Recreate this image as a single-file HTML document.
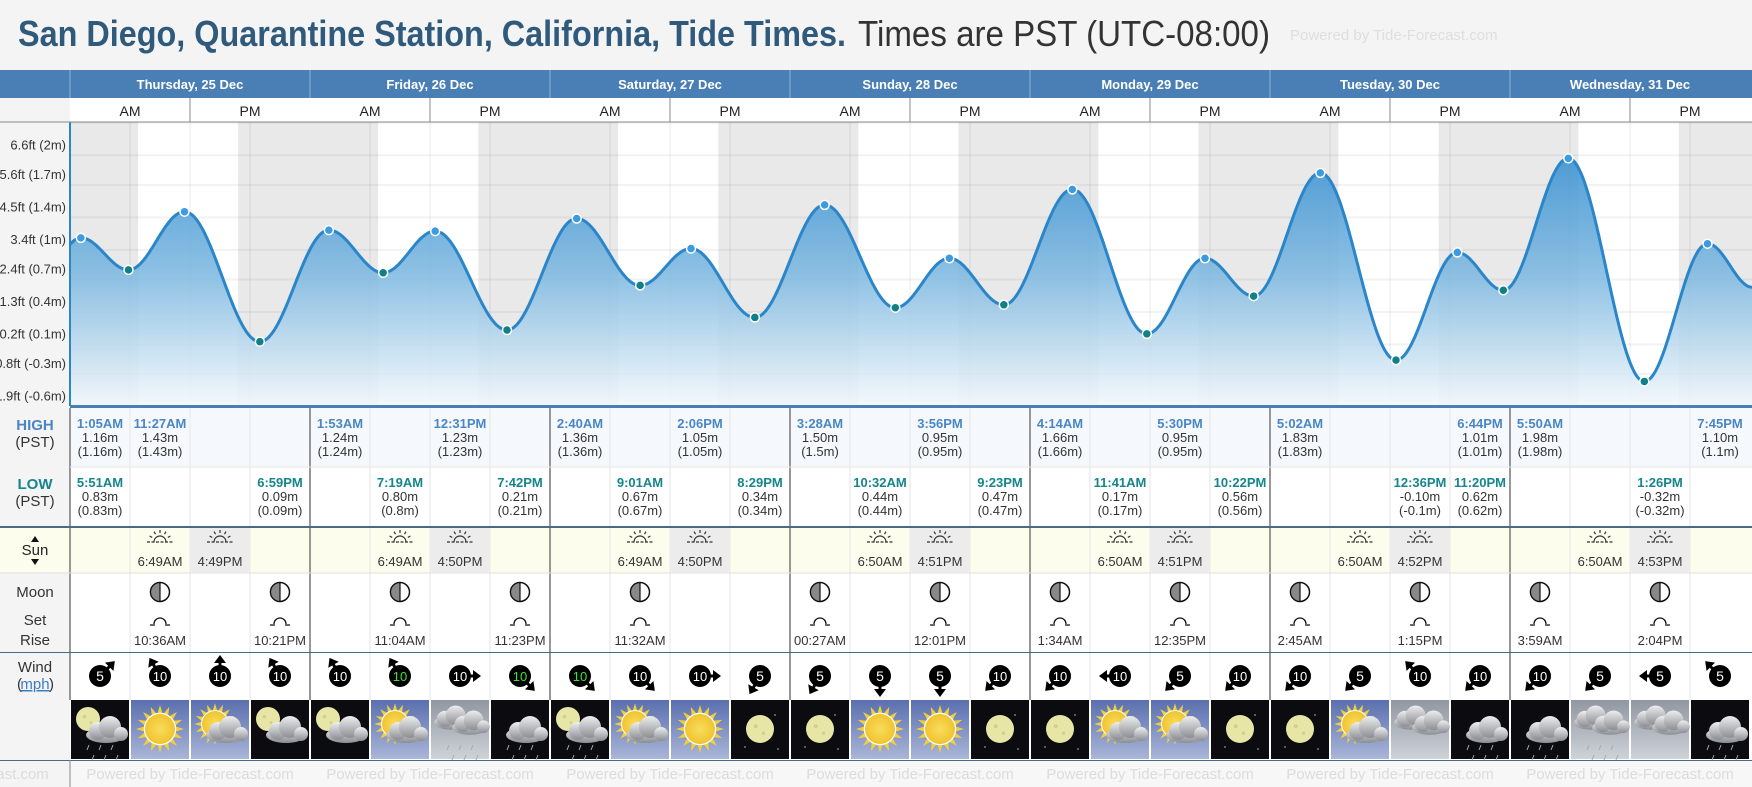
<!DOCTYPE html>
<html><head><meta charset="utf-8"><title>San Diego Tide Times</title>
<style>
html,body{margin:0;padding:0;background:#f4f4f4;}
svg{display:block;font-family:"Liberation Sans",Arial,sans-serif;}
</style></head>
<body>
<svg id="chart" width="1752" height="787" viewBox="0 0 1752 787" xmlns="http://www.w3.org/2000/svg">
<defs>
<linearGradient id="fillGrad" x1="0" y1="0" x2="0" y2="1" gradientUnits="userSpaceOnUse" x1v="0">
</linearGradient>
<linearGradient id="tideFill" x1="0" y1="140" x2="0" y2="406" gradientUnits="userSpaceOnUse">
<stop offset="0" stop-color="#2f8bd0"/><stop offset="0.5" stop-color="#7db8e0"/><stop offset="1" stop-color="#f3f8fc"/>
</linearGradient>
<linearGradient id="dayGrad" x1="0" y1="0" x2="0" y2="1"><stop offset="0" stop-color="#5a6fae"/><stop offset="1" stop-color="#aab6d9"/></linearGradient>
<linearGradient id="overGrad" x1="0" y1="0" x2="0" y2="1"><stop offset="0" stop-color="#9097a2"/><stop offset="1" stop-color="#cfd3d9"/></linearGradient>
<radialGradient id="sunGrad"><stop offset="0" stop-color="#f9dc5c"/><stop offset="1" stop-color="#f0c430"/></radialGradient>
<linearGradient id="cloudGrad" x1="0" y1="0" x2="0" y2="1"><stop offset="0" stop-color="#eeeeee"/><stop offset="1" stop-color="#8a8d93"/></linearGradient>
</defs>
<rect x="0" y="0" width="1752" height="787" fill="#f4f4f4"/>
<g>
<text x="18" y="46" font-size="36" font-weight="bold" fill="#2f5a7c" textLength="828" lengthAdjust="spacingAndGlyphs">San Diego, Quarantine Station, California, Tide Times.</text>
<text x="858" y="46" font-size="36" fill="#333" textLength="412" lengthAdjust="spacingAndGlyphs">Times are PST (UTC-08:00)</text>
<text x="1290" y="40" font-size="15" fill="#dedede">Powered by Tide-Forecast.com</text>
</g>
<g id="layer"></g>
</svg>
<script>
const dayLabels=['Thursday, 25 Dec','Friday, 26 Dec','Saturday, 27 Dec','Sunday, 28 Dec','Monday, 29 Dec','Tuesday, 30 Dec','Wednesday, 31 Dec'];
const tideDay=[0,0,0,0,1,1,1,1,2,2,2,2,3,3,3,3,4,4,4,4,5,5,5,5,6,6,6];
const tideTime=['1:05AM','5:51AM','11:27AM','6:59PM','1:53AM','7:19AM','12:31PM','7:42PM','2:40AM','9:01AM','2:06PM','8:29PM','3:28AM','10:32AM','3:56PM','9:23PM','4:14AM','11:41AM','5:30PM','10:22PM','5:02AM','12:36PM','6:44PM','11:20PM','5:50AM','1:26PM','7:45PM'];
const tideHeight=[1.16,0.83,1.43,0.09,1.24,0.80,1.23,0.21,1.36,0.67,1.05,0.34,1.50,0.44,0.95,0.47,1.66,0.17,0.95,0.56,1.83,-0.10,1.01,0.62,1.98,-0.32,1.10];
const tideKind=['H','L','H','L','H','L','H','L','H','L','H','L','H','L','H','L','H','L','H','L','H','L','H','L','H','L','H'];
const prevTide=[-1,'6:20PM',0.05];
const nextTide=[7,'12:15AM',0.65];
const tickFt=[7.7,6.6,5.6,4.5,3.4,2.4,1.3,0.2,-0.8,-1.9];
const tickLabels=['7.7ft (2.3m)','6.6ft (2m)','5.6ft (1.7m)','4.5ft (1.4m)','3.4ft (1m)','2.4ft (0.7m)','1.3ft (0.4m)','0.2ft (0.1m)','-0.8ft (-0.3m)','-1.9ft (-0.6m)'];
const sunrise=['6:49AM','6:49AM','6:49AM','6:50AM','6:50AM','6:50AM','6:50AM'];
const sunset=['4:49PM','4:50PM','4:50PM','4:51PM','4:51PM','4:52PM','4:53PM'];
const moonDay=[0,0,1,1,2,3,3,4,4,5,5,6,6];
const moonCol=[1,3,1,3,1,0,2,0,2,0,2,0,2];
const moonTimes=['10:36AM','10:21PM','11:04AM','11:23PM','11:32AM','00:27AM','12:01PM','1:34AM','12:35PM','2:45AM','1:15PM','3:59AM','2:04PM'];
const windSpeed=[5,10,10,10, 10,10,10,10, 10,10,10,5, 5,5,5,10, 10,10,5,10, 10,5,10,10, 10,5,5,5];
const windDir=[45,330,0,330, 330,330,90,135, 135,135,90,210, 210,180,180,225, 225,270,225,225, 225,225,315,225, 225,225,270,315];
const windGreen=[0,0,0,0, 0,1,0,1, 1,0,0,0, 0,0,0,0, 0,0,0,0, 0,0,0,0, 0,0,0,0];
const weather=['nmcr','ds','dsc','nmc', 'nmc','dsc','ocr','ncr', 'nmcr','dsc','ds','nm', 'nm','ds','ds','nm', 'nm','dsc','dsc','nm', 'nm','dsc','oc','ncr', 'ncr','ocr','oc','ncr'];

const NS='http://www.w3.org/2000/svg';
const layer=document.getElementById('layer');
function mk(tag,attrs,parent){const e=document.createElementNS(NS,tag);for(const k in attrs)e.setAttribute(k,attrs[k]);(parent||layer).appendChild(e);return e;}
function txt(x,y,s,attrs,parent){const e=mk('text',Object.assign({x:x,y:y},attrs),parent);e.textContent=s;return e;}
function parseT(s){const m=s.match(/(\d+):(\d+)(AM|PM)/);let h=+m[1]%12;if(m[3]==='PM')h+=12;return h+ +m[2]/60;}
const X0=70,DAYW=240;
function xScale(h){return X0+h*DAYW/24;}
function yScale(m){return 350.4-m*97;}
const CT=122,CB=406;

// chart backgrounds
let el;
el=mk('rect',{x:0,y:CT,width:X0,height:CB-CT,fill:'#f4f4f4'});


el=mk('rect',{x:X0,y:CT,width:1682,height:CB-CT,fill:'#e9e9e9'});


for(let d=0;d<7;d++){
  const a=xScale(d*24+parseT(sunrise[d])),b=xScale(d*24+parseT(sunset[d]));
  el=mk('rect',{x:a,y:CT,width:b-a,height:CB-CT,fill:'#ffffff'});
  
  
}
for(let i=0;i<tickFt.length;i++){
  const y=yScale(tickFt[i]*0.3048);
  el=mk('line',{x1:X0,x2:1752,y1:y,y2:y,stroke:'#000',['stroke-opacity']:0.05,'stroke-width':2});
  
  
  el=txt(66,y-6,tickLabels[i],{'font-size':13,'text-anchor':'end',fill:'#333'});
  
  
}
for(let q=1;q<28;q++){
  if(q%4===0)continue;
  el=mk('line',{x1:X0+q*60,x2:X0+q*60,y1:CT,y2:CB,stroke:'#000','stroke-opacity':0.04,'stroke-width':2});
  
  
}
// tide curve
const T=[prevTide[0]*24+parseT(prevTide[1])],H=[prevTide[2]];
for(let i=0;i<tideDay.length;i++){T.push(tideDay[i]*24+parseT(tideTime[i]));H.push(tideHeight[i]);}
T.push(nextTide[0]*24+parseT(nextTide[1]));H.push(nextTide[2]);
function heightAt(h){let i=0;while(i<T.length-2&&h>T[i+1])i++;const f=(h-T[i])/(T[i+1]-T[i]);return H[i]+(H[i+1]-H[i])*(1-Math.cos(Math.PI*f))/2;}
let pts=[];
for(let x=X0;x<=1752;x+=1){pts.push(x+','+yScale(heightAt((x-X0)*24/DAYW)).toFixed(1));}
el=mk('path',{d:'M'+X0+','+CB+' L'+pts.join(' L')+' L1752,'+CB+' Z',fill:'url(#tideFill)','fill-opacity':0.88});


el=mk('path',{d:'M'+pts.join(' L'),fill:'none',stroke:'#2b86c9','stroke-width':3});


for(let i=0;i<tideDay.length;i++){
  const x=xScale(tideDay[i]*24+parseT(tideTime[i])),y=yScale(tideHeight[i]);
  el=mk('circle',{cx:x,cy:y,r:4.5,fill:tideKind[i]==='H'?'#3a9be0':'#0f7f88',stroke:'#fff','stroke-width':1.5});
  
  
}
el=mk('line',{x1:X0,x2:X0,y1:CT,y2:CB,stroke:'#2b86c9','stroke-width':2});


el=mk('rect',{x:X0,y:CB-1,width:1682,height:3,fill:'#4a7fb5'});



// header rows
el=mk('rect',{x:0,y:70,width:1752,height:28,fill:'#4a7fb5'});


el=mk('rect',{x:X0,y:98,width:1682,height:24,fill:'#fff'});


el=mk('rect',{x:0,y:98,width:X0,height:24,fill:'#f4f4f4'});


el=mk('line',{x1:0,x2:1752,y1:122,y2:122,stroke:'#888','stroke-width':1});


for(let d=0;d<7;d++){
  const x=X0+d*DAYW;
  el=txt(x+120,89,dayLabels[d],{'font-size':13,'font-weight':'bold',fill:'#fff','text-anchor':'middle'});
  
  
  el=txt(x+60,116,'AM',{'font-size':14,fill:'#222','text-anchor':'middle'});
  
  
  el=txt(x+180,116,'PM',{'font-size':14,fill:'#222','text-anchor':'middle'});
  
  
  el=mk('line',{x1:x+120,x2:x+120,y1:98,y2:122,stroke:'#888'});
  
  
  el=mk('line',{x1:x,x2:x,y1:70,y2:98,stroke:'#8fb0d4'});
  
  
}

// table backgrounds
const rows=[[408,467,'#f5f9fd','high-row'],[467,527,'#ffffff','low-row'],[528,573,'#fdfdee','sun-row'],[573,652,'#ffffff','moon-row'],[653,700,'#ffffff','wind-row'],[700,760,'#ffffff','weather-row'],[760,787,'#f7f7f7','footer-row']];
for(const r of rows){
  el=mk('rect',{x:X0,y:r[0],width:1682,height:r[1]-r[0],fill:r[2]});
  
  
}
el=mk('rect',{x:0,y:408,width:X0,height:352,fill:'#f4f4f4'});


el=mk('rect',{x:0,y:528,width:X0,height:45,fill:'#fdfdee'});


for(let q=0;q<28;q++){
  const x=X0+q*60;
  el=mk('line',{x1:x,x2:x,y1:408,y2:700,stroke:q%4===0?'#777':'#e6e6e6','stroke-width':q%4===0?1.5:1});
  
  
}
el=mk('line',{x1:X0,x2:1752,y1:467,y2:467,stroke:'#e6e6e6'});


el=mk('rect',{x:0,y:526,width:1752,height:2,fill:'#4b6a88'});


el=mk('line',{x1:0,x2:1752,y1:573,y2:573,stroke:'#e0e0e0'});


el=mk('line',{x1:0,x2:1752,y1:652.5,y2:652.5,stroke:'#4b6a88'});


el=mk('line',{x1:0,x2:1752,y1:760.5,y2:760.5,stroke:'#4b6a88'});


el=mk('line',{x1:X0,x2:X0,y1:760,y2:787,stroke:'#888'});



// row labels
const lbl=[[35,430,'HIGH','#4a86c5',true],[35,447,'(PST)','#333',false],[35,489,'LOW','#14868c',true],[35,506,'(PST)','#333',false],[35,555,'Sun','#222',false],[35,597,'Moon','#333',false],[35,625,'Set','#333',false],[35,645,'Rise','#333',false],[35,672,'Wind','#333',false]];
for(const l of lbl){
  el=txt(l[0],l[1],l[2],{'font-size':15,'text-anchor':'middle',fill:l[3],'font-weight':l[4]?'bold':'normal'});
  
  
}
el=mk('path',{d:'M31,542 L35,536 L39,542 Z M31,559 L39,559 L35,565 Z',fill:'#111'});


el=txt(35,689,'(',{'font-size':15,'text-anchor':'end',fill:'#333',dx:-13});


el=txt(35,689,'mph',{'font-size':15,'text-anchor':'middle',fill:'#3b7cc4','text-decoration':'underline'});


el=txt(49,689,')',{'font-size':15,fill:'#333'});



// high/low table
for(let i=0;i<tideDay.length;i++){
  const h=parseT(tideTime[i]),col=tideDay[i]*4+Math.floor(h/6),cx=X0+col*60+30,top=tideKind[i]==='H'?408:467;
  el=txt(cx,top+20,tideTime[i],{'font-size':13,'font-weight':'bold','text-anchor':'middle',fill:tideKind[i]==='H'?'#4a86c5':'#14868c'});
  
  
  el=txt(cx,top+34,tideHeight[i].toFixed(2)+'m',{'font-size':13,'text-anchor':'middle',fill:'#333'});
  
  
  el=txt(cx,top+48,'('+String(+tideHeight[i])+'m)',{'font-size':13,'text-anchor':'middle',fill:'#333'});
  
  
}
// sun row
function sunIcon(cx,cy,g){
  mk('line',{x1:cx-13,x2:cx+13,y1:cy+4,y2:cy+4,stroke:'#333','stroke-width':1.2,'stroke-dasharray':'3 1.5'},g);
  mk('path',{d:'M'+(cx-6)+','+(cy+4)+' A6,6 0 0 1 '+(cx+6)+','+(cy+4),fill:'none',stroke:'#333','stroke-width':1.2},g);
  for(const a of [-60,-30,0,30,60]){const r=a*Math.PI/180;mk('line',{x1:cx+9*Math.sin(r),y1:cy+4-9*Math.cos(r),x2:cx+12*Math.sin(r),y2:cy+4-12*Math.cos(r),stroke:'#333','stroke-width':1.2},g);}
}
for(let d=0;d<7;d++){
  const x1=X0+d*DAYW+60,x2=X0+d*DAYW+120;
  el=mk('rect',{x:x2,y:528,width:60,height:45,fill:'#ececec'});
  
  
  let g=mk('g',{});
  
  
  sunIcon(x1+30,538,g);
  g=mk('g',{});
  
  
  sunIcon(x2+30,538,g);
  el=txt(x1+30,566,sunrise[d],{'font-size':13,'text-anchor':'middle',fill:'#333'});
  
  
  el=txt(x2+30,566,sunset[d],{'font-size':13,'text-anchor':'middle',fill:'#333'});
  
  
}
// moon row
for(let i=0;i<moonDay.length;i++){
  const cx=X0+(moonDay[i]*4+moonCol[i])*60+30;
  const g=mk('g',{});
  
  
  mk('circle',{cx:cx,cy:592,r:9.5,fill:'#fff',stroke:'#111','stroke-width':1.5},g);
  mk('path',{d:'M'+cx+','+(592-9.5)+' A9.5,9.5 0 0 0 '+cx+','+(592+9.5)+' Z',fill:'#888',stroke:'#111','stroke-width':1.2},g);
  mk('path',{d:'M'+(cx-10)+',625 L'+(cx-5)+',625 M'+(cx+5)+',625 L'+(cx+10)+',625 M'+(cx-6)+',624 A6,6 0 0 1 '+(cx+6)+',624',fill:'none',stroke:'#111','stroke-width':1.3},g);
  txt(cx,645,moonTimes[i],{'font-size':13,'text-anchor':'middle',fill:'#333'},g);
}
// wind row
for(let c=0;c<28;c++){
  const cx=X0+c*60+30,cy=676;
  const g=mk('g',{transform:'translate('+cx+','+cy+')'});
  
  
  const a=windDir[c]*Math.PI/180,sx=Math.sin(a),sy=-Math.cos(a);
  mk('line',{x1:0,y1:0,x2:sx*16,y2:sy*16,stroke:'#000','stroke-width':3},g);
  const tx=sx*21,ty=sy*21,px=-sy,py=sx;
  mk('path',{d:'M'+tx+','+ty+' L'+(sx*13+px*6)+','+(sy*13+py*6)+' L'+(sx*13-px*6)+','+(sy*13-py*6)+' Z',fill:'#000'},g);
  mk('circle',{cx:0,cy:0,r:11,fill:'#000'},g);
  txt(0,5,String(windSpeed[c]),{'font-size':windSpeed[c]>=10?13:14,'text-anchor':'middle',fill:windGreen[c]?'#3ee23e':'#fff'},g);
}
// weather icons
function drawSun(g,cx,cy,r){for(let k=0;k<16;k++){const a=k*Math.PI/8;mk('path',{d:'M'+(cx+Math.cos(a-0.16)*r*1.05)+','+(cy+Math.sin(a-0.16)*r*1.05)+' L'+(cx+Math.cos(a)*r*1.6)+','+(cy+Math.sin(a)*r*1.6)+' L'+(cx+Math.cos(a+0.16)*r*1.05)+','+(cy+Math.sin(a+0.16)*r*1.05)+' Z',fill:'#f2cf3a'},g);}mk('circle',{cx:cx,cy:cy,r:r*1.08,fill:'#fff'},g);mk('circle',{cx:cx,cy:cy,r:r,fill:'url(#sunGrad)'},g);}
function drawMoon(g,cx,cy,r){mk('circle',{cx:cx,cy:cy,r:r,fill:'#e8e6a6'},g);mk('circle',{cx:cx-r*0.3,cy:cy-r*0.2,r:r*0.15,fill:'#d3d08a'},g);mk('circle',{cx:cx+r*0.25,cy:cy+r*0.3,r:r*0.12,fill:'#d3d08a'},g);}
function drawCloud(g,cx,cy,s){const c='url(#cloudGrad)';mk('ellipse',{cx:cx,cy:cy+4*s,rx:20*s,ry:8*s,fill:c},g);mk('circle',{cx:cx-8*s,cy:cy,r:9*s,fill:c},g);mk('circle',{cx:cx+4*s,cy:cy-4*s,r:11*s,fill:c},g);mk('circle',{cx:cx+15*s,cy:cy+3*s,r:7*s,fill:c},g);}
function drawRain(g,cx,cy){for(let k=0;k<6;k++){const x=cx-15+(k%3)*12+(k>2?5:0),y=cy+(k>2?10:0);mk('line',{x1:x,y1:y,x2:x-2,y2:y+5,stroke:'#aaa','stroke-width':1},g);}}
for(let c=0;c<28;c++){
  const x=X0+c*60+1,w=58,code=weather[c];
  const g=mk('g',{});
  
  
  const bg=code[0]==='n'?'#0b0b10':code[0]==='d'?'url(#dayGrad)':'url(#overGrad)';
  mk('rect',{x:x,y:700,width:w,height:59,fill:bg},g);
  const cx=x+29,cy=729;
  const hasC=code.includes('c');
  if(code.includes('m')){drawMoon(g,hasC?cx-12:cx,hasC?cy-10:cy,hasC?12:14);if(!hasC){mk('circle',{cx:x+44,cy:cy-14,r:1,fill:'#777'},g);mk('circle',{cx:x+14,cy:cy+18,r:1,fill:'#777'},g);mk('circle',{cx:x+47,cy:cy+20,r:1,fill:'#777'},g);}}
  if(code.includes('s')){drawSun(g,hasC?cx-5:cx,hasC?cy-5:cy,hasC?13:15);}
  if(hasC){if(code[0]==='o'){drawCloud(g,cx-8,cy-10,0.9);drawCloud(g,cx+10,cy-5,0.9);}else drawCloud(g,cx+6,cy+2,1);}
  if(code.includes('r'))drawRain(g,cx+4,cy+16);
}
// footer
for(let d=0;d<7;d++){
  el=txt(X0+d*DAYW+120,779,'Powered by Tide-Forecast.com',{'font-size':15,'text-anchor':'middle',fill:'#dcdcdc'});
  
  
}
el=txt(X0-125,779,'Powered by Tide-Forecast.com',{'font-size':15,'text-anchor':'middle',fill:'#dcdcdc'});


</script>
</body></html>
